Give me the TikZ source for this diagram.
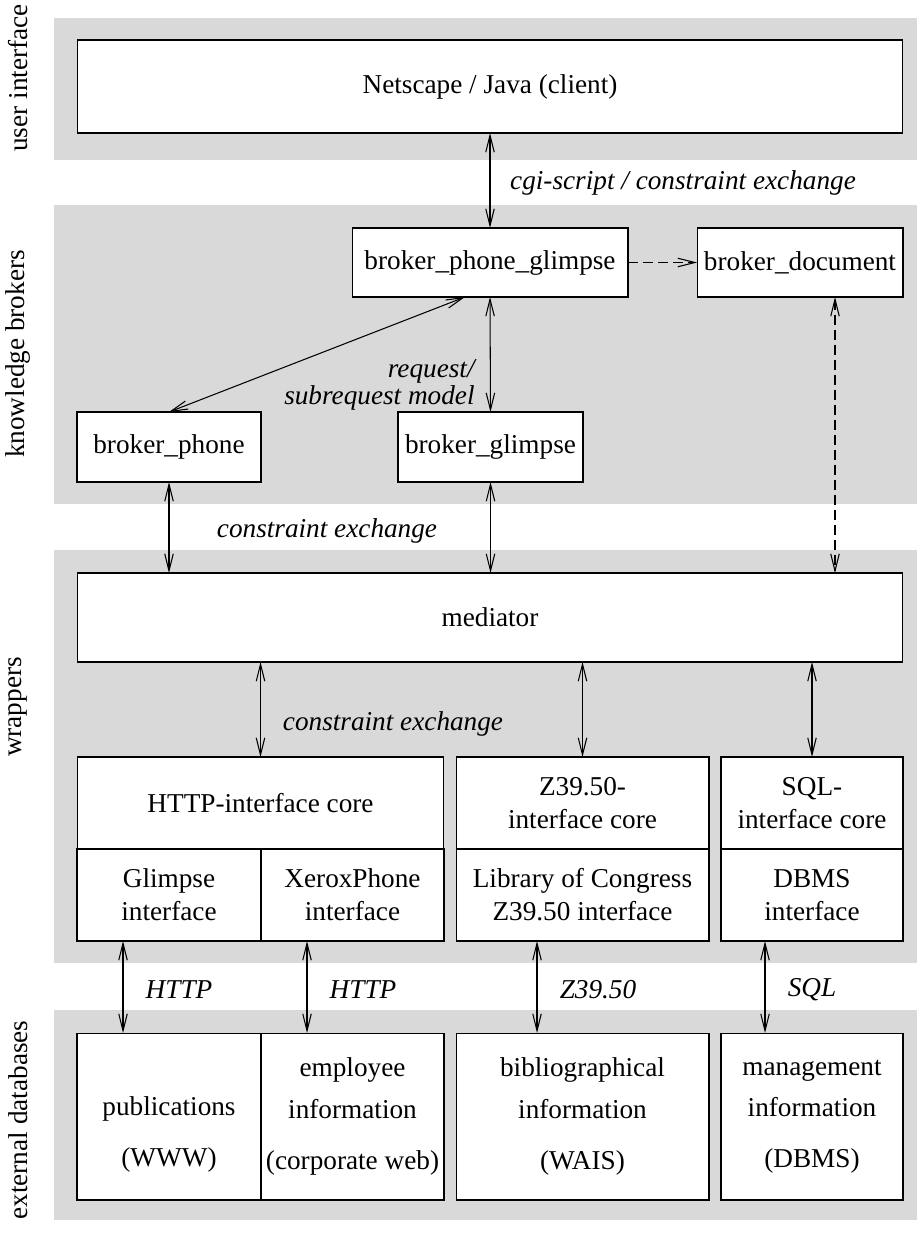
\documentclass[tikz,border=0pt]{standalone}
\usepackage{fontspec}
\setmainfont{Liberation Serif}
\usetikzlibrary{arrows.meta,positioning}

\begin{document}
\begin{tikzpicture}[x=0.02cm,y=-0.02cm,line width=0.6pt,
  every node/.style={font=\fontsize{15.5}{18.8}\selectfont}]
\tikzstyle{band} = [fill=black!15,draw=none]
\tikzstyle{box} = [draw,fill=white,inner sep=0pt,outer sep=0pt,align=center]
\tikzstyle{myarrow} = [{Straight Barb[length=0.34cm,width=0.17cm]}-{Straight Barb[length=0.34cm,width=0.17cm]}]
\tikzstyle{onearrow} = [-{Straight Barb[length=0.34cm,width=0.17cm]}]
\tikzstyle{mydash} = [dash pattern=on 0.2cm off 0.1cm]
\tikzstyle{lbl} = [font=\fontsize{15.5}{18.8}\selectfont\itshape]

\useasboundingbox (0,0) rectangle (917,1234);

\fill[band] (54,18) rectangle (917,160);
\fill[band] (54,205) rectangle (917,504);
\fill[band] (54,550) rectangle (917,963);
\fill[band] (54,1010) rectangle (917,1220);

\node[rotate=90] (S1) at (18,78) {user interface};
\node[rotate=90] (S2) at (18,354) {knowledge brokers};
\node[rotate=90] (S3) at (18,707) {wrappers};
\node[rotate=90] (S4) at (18,1120) {external databases};

\node[box,minimum width=16.52cm,minimum height=1.86cm] (C1) at (490,86.5) {Netscape / Java (client)};

\node[box,minimum width=5.52cm,minimum height=1.38cm] (K1) at (490,262.5) {broker\_phone\_glimpse};
\node[box,minimum width=4.12cm,minimum height=1.38cm] (K2) at (800,262.5) {broker\_document};
\node[box,minimum width=3.68cm,minimum height=1.40cm] (K3) at (169,447) {broker\_phone};
\node[box,minimum width=3.70cm,minimum height=1.40cm] (K4) at (490.5,447) {broker\_glimpse};

\node[box,minimum width=16.52cm,minimum height=1.78cm] (M1) at (490,617.5) {mediator};

\node[box,minimum width=7.34cm,minimum height=1.84cm] (W1) at (260.5,803) {HTTP-interface core};
\node[box,minimum width=3.68cm,minimum height=1.84cm] (W2) at (169,895) {Glimpse\\interface};
\node[box,minimum width=3.66cm,minimum height=1.84cm] (W3) at (352.5,895) {XeroxPhone\\interface};
\node[box,minimum width=5.06cm,minimum height=1.84cm] (W4) at (582.5,803) {Z39.50-\\interface core};
\node[box,minimum width=5.06cm,minimum height=1.84cm] (W5) at (582.5,895) {Library of Congress\\Z39.50 interface};
\node[box,minimum width=3.64cm,minimum height=1.84cm] (W6) at (812,803) {SQL-\\interface core};
\node[box,minimum width=3.64cm,minimum height=1.84cm] (W7) at (812,895) {DBMS\\interface};

\node[box,minimum width=3.68cm,minimum height=3.34cm] (D1) at (169,1116.5) {\phantom{x}\\[5pt]publications\\[10pt](WWW)};
\node[box,minimum width=3.66cm,minimum height=3.34cm] (D2) at (352.5,1116.5) {employee\\[5pt]information\\[10pt](corporate web)};
\node[box,minimum width=5.06cm,minimum height=3.34cm] (D3) at (582.5,1116.5) {bibliographical\\[5pt]information\\[10pt](WAIS)};
\node[box,minimum width=3.64cm,minimum height=3.34cm] (D4) at (812,1116.5) {management\\[5pt]information\\[10pt](DBMS)};

\node[lbl] (L1) at (683,183) {cgi-script / constraint exchange};
\node[lbl,font=\fontsize{15.5}{12}\selectfont\itshape,align=right,anchor=east] (L2) at (481,385) {request/\\subrequest model};
\node[lbl] (L3) at (327,531) {constraint exchange};
\node[lbl] (L4) at (393,724) {constraint exchange};
\node[lbl] (L5) at (179,990) {HTTP};
\node[lbl] (L6) at (363,990) {HTTP};
\node[lbl] (L7) at (598,990) {Z39.50};
\node[lbl] (L8) at (812,990) {SQL};

\draw[myarrow] (C1.south) -- (K1.north);
\draw[onearrow,mydash] (K1.east) -- (K2.west);
\draw[myarrow] ([xshift=-0.5cm]K1.south) -- (K3.north);
\draw[myarrow] (K1.south) -- (K4.north);
\draw[myarrow] (K3.south) -- (K3.south |- M1.north);
\draw[myarrow] (K4.south) -- (K4.south |- M1.north);
\draw[myarrow,mydash] ([xshift=0.7cm]K2.south) -- ([xshift=0.7cm]K2.south |- M1.north);
\draw[myarrow] (W1.north |- M1.south) -- (W1.north);
\draw[myarrow] (W4.north |- M1.south) -- (W4.north);
\draw[myarrow] (W6.north |- M1.south) -- (W6.north);
\draw[myarrow] ([xshift=-0.92cm]W2.south) -- ([xshift=-0.92cm]D1.north);
\draw[myarrow] ([xshift=-0.91cm]W3.south) -- ([xshift=-0.91cm]D2.north);
\draw[myarrow] ([xshift=-0.91cm]W5.south) -- ([xshift=-0.91cm]D3.north);
\draw[myarrow] ([xshift=-0.94cm]W7.south) -- ([xshift=-0.94cm]D4.north);
\end{tikzpicture}
\end{document}
